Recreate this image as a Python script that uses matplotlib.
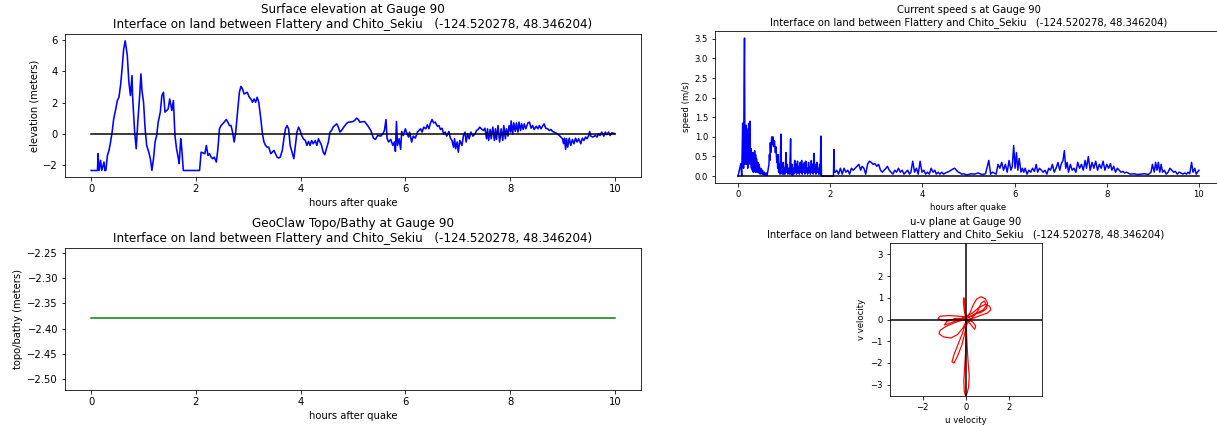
import matplotlib
matplotlib.use("Agg")
import matplotlib.pyplot as plt

gauge_title = "Interface on land between Flattery and Chito_Sekiu   (-124.520278, 48.346204)"

# ---- surface elevation (hours, meters) ----
elev_early = [
    (0.00, -2.37), (0.12, -2.37), (0.13, -1.29), (0.15, -2.37), (0.18, -1.72), (0.20, -2.37),
    (0.245, -1.83), (0.26, -2.37), (0.28, -2.37), (0.31, -1.40), (0.34, -1.08), (0.37, -0.54),
    (0.40, 0.10), (0.43, 0.95), (0.47, 1.59), (0.50, 2.13), (0.53, 2.34), (0.56, 3.09),
    (0.59, 4.16), (0.62, 5.44), (0.65, 5.97), (0.69, 5.01), (0.72, 3.30), (0.75, 2.45),
    (0.78, 3.73), (0.79, 2.45), (0.83, 0.10), (0.86, -0.97), (0.89, 0.74), (0.93, 2.66),
    (0.95, 3.84), (0.97, 2.77), (1.00, 2.02), (1.03, 0.31), (1.06, -0.76), (1.10, -1.19),
    (1.13, -1.61), (1.16, -2.36), (1.19, -1.61), (1.22, -0.54), (1.25, -0.12), (1.28, 0.74),
    (1.32, 1.38), (1.35, 2.45), (1.38, 2.66), (1.41, 1.38), (1.44, 1.49), (1.47, 1.59),
    (1.50, 2.23), (1.54, 1.49), (1.57, 2.13), (1.60, -0.12), (1.63, -0.97), (1.66, -1.51),
    (1.68, -1.93), (1.71, -0.33), (1.72, -0.54), (1.76, -2.37), (2.07, -2.37),
]
elev_mid = [
    (2.10, -1.19), (2.17, -1.29), (2.20, -0.76), (2.23, -1.40), (2.26, -1.29), (2.29, -1.51),
    (2.32, -1.61), (2.35, -1.51), (2.39, -1.83), (2.42, -0.97), (2.45, 0.31), (2.48, 0.52),
    (2.54, 0.74), (2.58, 0.91), (2.61, 0.74), (2.64, 0.52), (2.67, 0.52), (2.70, 0.10),
    (2.73, -0.54), (2.76, 0.10), (2.80, 1.59), (2.83, 2.66), (2.86, 3.04), (2.89, 2.87),
    (2.92, 2.55), (2.98, 2.66), (3.02, 2.34), (3.05, 2.23), (3.08, 2.02), (3.11, 2.23),
    (3.14, 2.02), (3.17, 2.34), (3.20, 2.02), (3.24, 0.95), (3.27, -0.01), (3.30, -0.54),
    (3.33, -0.76), (3.36, -0.87), (3.39, -0.87), (3.43, -1.29), (3.46, -1.19), (3.49, -1.08),
    (3.55, -1.51), (3.58, -1.57), (3.61, -1.51), (3.65, -1.08), (3.68, -0.33), (3.71, 0.31),
    (3.74, 0.52), (3.77, 0.31), (3.80, -0.76), (3.87, -1.61), (3.90, -0.76), (3.93, 0.10),
    (3.96, 0.42), (3.99, 0.20), (4.02, -0.12), (4.05, -0.33), (4.09, -0.44), (4.12, -0.76),
    (4.15, -0.50), (4.18, -0.76), (4.21, -0.44), (4.24, -0.65), (4.28, -0.44), (4.31, -0.76),
    (4.34, -0.33), (4.37, -0.54), (4.40, -0.76), (4.43, -1.19), (4.46, -1.36), (4.50, -0.87),
    (4.53, -0.54), (4.56, 0.10), (4.59, 0.20), (4.62, 0.42), (4.65, 0.52), (4.69, 0.63),
    (4.72, 0.42), (4.75, 0.10), (4.78, 0.20), (4.81, 0.35), (4.87, 0.63), (4.91, 0.74),
    (4.94, 0.74), (5.00, 0.78), (5.03, 0.84), (5.07, 1.00), (5.10, 0.91), (5.13, 0.74),
]
elev_late = [
    (5.22, 0.78), (5.28, 0.52), (5.34, 0.20), (5.39, -0.29), (5.43, -0.37), (5.47, -0.12),
    (5.53, -0.16), (5.57, -0.01), (5.60, 0.20), (5.63, 0.91), (5.65, -0.29), (5.68, -0.54),
    (5.72, -0.37), (5.76, -0.76), (5.79, -0.54), (5.81, -1.14), (5.83, 0.78), (5.85, -0.76),
    (5.88, -0.33), (5.91, -1.01), (5.93, 0.14), (5.96, -0.12), (6.00, 0.31), (6.02, 0.10),
    (6.06, -0.22), (6.08, 0.10), (6.12, -0.54), (6.15, -0.16), (6.19, -0.29), (6.23, 0.10),
    (6.26, 0.20), (6.29, 0.31), (6.32, 0.10), (6.35, 0.42), (6.39, 0.31), (6.42, 0.57),
    (6.45, 0.31), (6.48, 0.69), (6.51, 0.91), (6.54, 0.69), (6.57, 0.74), (6.61, 0.48),
    (6.64, 0.52), (6.67, 0.27), (6.70, 0.35), (6.73, -0.01), (6.76, 0.10), (6.79, -0.16),
    (6.83, 0.14), (6.86, -0.29), (6.89, -0.44), (6.92, -0.87), (6.94, -0.33), (6.96, -0.97),
    (6.99, -0.54), (7.01, -1.19), (7.04, -0.44), (7.08, -0.76), (7.11, -0.12), (7.14, 0.10),
    (7.16, -0.54), (7.19, -0.01), (7.22, -0.33), (7.25, 0.10), (7.29, -0.16), (7.33, -0.01),
    (7.36, 0.20), (7.39, 0.27), (7.42, 0.42), (7.45, 0.31), (7.49, 0.20), (7.52, 0.35),
    (7.55, -0.33), (7.57, 0.31), (7.59, -0.44), (7.62, 0.27), (7.64, -0.33), (7.67, 0.42),
    (7.70, -0.44), (7.72, 0.31), (7.74, -0.37), (7.77, 0.52), (7.80, -0.54), (7.83, 0.31),
    (7.86, -0.44), (7.88, 0.52), (7.91, -0.33), (7.93, 0.31), (7.96, -0.16), (7.98, 0.52),
    (8.01, 0.10), (8.02, 0.82), (8.05, -0.01), (8.07, 0.69), (8.10, 0.14), (8.12, 0.69),
    (8.15, 0.10), (8.17, 0.74), (8.20, 0.20), (8.22, 0.63), (8.25, 0.27), (8.27, 0.63),
    (8.30, 0.31), (8.34, 0.69), (8.37, 0.74), (8.40, 0.35), (8.43, 0.52), (8.46, 0.27),
    (8.50, 0.48), (8.53, 0.31), (8.56, 0.52), (8.59, 0.31), (8.62, 0.48), (8.65, 0.63),
    (8.68, 0.35), (8.72, 0.31), (8.75, 0.20), (8.78, 0.27), (8.81, 0.14), (8.84, 0.10),
    (8.87, 0.05), (8.90, -0.01), (8.94, -0.12), (8.97, -0.22), (9.00, -0.33), (9.02, -0.65),
    (9.04, -0.29), (9.06, -1.01), (9.08, -0.33), (9.10, -0.87), (9.13, -0.29), (9.16, -0.76),
    (9.19, -0.37), (9.22, -0.65), (9.25, -0.29), (9.28, -0.54), (9.31, -0.33), (9.35, -0.65),
    (9.38, -0.29), (9.41, -0.44), (9.44, -0.22), (9.47, -0.33), (9.50, -0.12), (9.52, 0.14),
    (9.54, -0.16), (9.58, -0.22), (9.63, -0.12), (9.66, -0.22), (9.69, -0.01), (9.72, -0.12),
    (9.75, 0.10), (9.79, -0.16), (9.82, 0.10), (9.85, -0.07), (9.88, 0.10), (9.91, -0.12),
    (9.94, 0.05), (10.00, 0.00),
]

# ---- current speed (hours, m/s) ----
speed_early = [
    (0.00, 0.0), (0.06, 0.32), (0.08, 0.0), (0.10, 1.35), (0.12, 0.2), (0.13, 2.1), (0.14, 3.52),
    (0.15, 0.3), (0.16, 1.2), (0.17, 0.4), (0.18, 1.3), (0.19, 0.3), (0.20, 1.2), (0.21, 0.2),
    (0.22, 0.9), (0.23, 0.3), (0.24, 1.35), (0.25, 0.4), (0.26, 1.4), (0.27, 0.3), (0.28, 0.7),
    (0.29, 0.2), (0.30, 0.55), (0.31, 0.15), (0.32, 0.6), (0.33, 0.1), (0.34, 0.5), (0.35, 0.15),
    (0.36, 0.65), (0.37, 0.1), (0.38, 0.55), (0.39, 0.1), (0.40, 0.45), (0.42, 0.1), (0.43, 0.35),
    (0.45, 0.08), (0.46, 0.3), (0.48, 0.05), (0.50, 0.2), (0.52, 0.05), (0.53, 0.15), (0.55, 0.03),
    (0.57, 0.1), (0.59, 0.02), (0.61, 0.08), (0.63, 0.02), (0.65, 0.15), (0.67, 0.3), (0.68, 0.55),
    (0.69, 0.4), (0.70, 0.85), (0.71, 0.6), (0.73, 1.0), (0.74, 0.8), (0.76, 1.0), (0.77, 0.75),
    (0.79, 0.9), (0.81, 0.6), (0.82, 0.75), (0.84, 0.35), (0.85, 0.5), (0.86, 0.2), (0.87, 0.55),
    (0.88, 0.1), (0.90, 0.3), (0.91, 0.05), (0.93, 1.07), (0.94, 0.1), (0.95, 0.2), (0.96, 0.05),
    (0.98, 0.35), (0.99, 0.05), (1.01, 0.2), (1.02, 0.05), (1.04, 0.6), (1.05, 0.1), (1.07, 0.3),
    (1.08, 0.05), (1.10, 0.2), (1.12, 0.05), (1.14, 0.95), (1.15, 0.05), (1.17, 0.3), (1.18, 0.02),
    (1.20, 0.2), (1.21, 0.05), (1.23, 0.4), (1.24, 0.1), (1.26, 0.3), (1.27, 0.05), (1.29, 0.38),
    (1.30, 0.1), (1.32, 0.25), (1.33, 0.05), (1.35, 0.35), (1.36, 0.1), (1.38, 0.4), (1.39, 0.05),
    (1.41, 0.3), (1.42, 0.1), (1.44, 0.35), (1.45, 0.05), (1.47, 0.38), (1.48, 0.1), (1.50, 0.2),
    (1.51, 0.05), (1.53, 0.35), (1.54, 0.1), (1.56, 0.25), (1.57, 0.05), (1.59, 0.4), (1.60, 0.1),
    (1.62, 0.3), (1.63, 0.05), (1.65, 0.58), (1.66, 0.1), (1.68, 0.3), (1.69, 0.05), (1.71, 0.35),
    (1.72, 0.1), (1.74, 0.2), (1.75, 0.05), (1.77, 0.3), (1.78, 0.05), (1.80, 1.02), (1.81, 0.0),
    (2.07, 0.0), (2.08, 0.68), (2.09, 0.1),
]
speed_mid = [
    (2.11, 0.1), (2.14, 0.15), (2.18, 0.05), (2.22, 0.2), (2.26, 0.05), (2.30, 0.2), (2.34, 0.1),
    (2.38, 0.15), (2.42, 0.05), (2.46, 0.2), (2.50, 0.15), (2.54, 0.2), (2.58, 0.25), (2.62, 0.3),
    (2.66, 0.15), (2.69, 0.25), (2.73, 0.2), (2.77, 0.05), (2.81, 0.3), (2.85, 0.38), (2.89, 0.35),
    (2.93, 0.3), (2.97, 0.32), (3.01, 0.25), (3.05, 0.3), (3.09, 0.15), (3.13, 0.1), (3.17, 0.15),
    (3.21, 0.2), (3.24, 0.25), (3.28, 0.15), (3.32, 0.1), (3.36, 0.05), (3.40, 0.15), (3.44, 0.1),
    (3.48, 0.2), (3.52, 0.1), (3.56, 0.15), (3.60, 0.05), (3.64, 0.1), (3.68, 0.15), (3.72, 0.05),
    (3.75, 0.1), (3.79, 0.38), (3.83, 0.1), (3.87, 0.2), (3.91, 0.05), (3.95, 0.38), (3.99, 0.1),
    (4.03, 0.15), (4.07, 0.05), (4.11, 0.1), (4.15, 0.05), (4.19, 0.2), (4.23, 0.1), (4.27, 0.15),
    (4.30, 0.05), (4.34, 0.1), (4.38, 0.05), (4.42, 0.1), (4.46, 0.05), (4.50, 0.08), (4.54, 0.1),
    (4.58, 0.12), (4.62, 0.15), (4.66, 0.18), (4.70, 0.2), (4.74, 0.15), (4.78, 0.1), (4.82, 0.08),
    (4.85, 0.05), (4.89, 0.06), (4.97, 0.03), (5.05, 0.06), (5.13, 0.05), (5.21, 0.08), (5.29, 0.04),
    (5.37, 0.06),
]
speed_late = [
    (5.44, 0.4), (5.48, 0.05), (5.52, 0.1), (5.60, 0.05), (5.64, 0.3), (5.68, 0.2), (5.72, 0.35),
    (5.76, 0.15), (5.80, 0.3), (5.84, 0.1), (5.88, 0.4), (5.92, 0.15), (5.95, 0.25), (5.98, 0.78),
    (6.01, 0.2), (6.04, 0.6), (6.07, 0.15), (6.10, 0.45), (6.14, 0.1), (6.17, 0.2), (6.20, 0.1),
    (6.23, 0.2), (6.27, 0.05), (6.31, 0.15), (6.35, 0.1), (6.39, 0.2), (6.43, 0.12), (6.47, 0.3),
    (6.50, 0.1), (6.54, 0.2), (6.58, 0.15), (6.62, 0.1), (6.66, 0.15), (6.70, 0.05), (6.74, 0.2),
    (6.78, 0.15), (6.82, 0.3), (6.86, 0.1), (6.90, 0.2), (6.94, 0.35), (6.98, 0.15), (7.01, 0.3),
    (7.05, 0.4), (7.08, 0.65), (7.11, 0.2), (7.14, 0.35), (7.17, 0.1), (7.21, 0.3), (7.25, 0.15),
    (7.29, 0.2), (7.33, 0.1), (7.37, 0.35), (7.41, 0.2), (7.45, 0.3), (7.49, 0.15), (7.53, 0.4),
    (7.56, 0.2), (7.60, 0.5), (7.64, 0.15), (7.68, 0.35), (7.72, 0.2), (7.76, 0.38), (7.80, 0.15),
    (7.84, 0.3), (7.88, 0.2), (7.92, 0.38), (7.96, 0.15), (8.00, 0.3), (8.04, 0.2), (8.08, 0.32),
    (8.11, 0.15), (8.15, 0.25), (8.19, 0.1), (8.23, 0.2), (8.27, 0.15), (8.31, 0.1), (8.35, 0.12),
    (8.39, 0.08), (8.43, 0.1), (8.51, 0.05), (8.59, 0.06), (8.66, 0.04), (8.74, 0.05), (8.82, 0.06),
    (8.90, 0.04), (8.96, 0.1), (8.99, 0.3), (9.03, 0.1), (9.06, 0.35), (9.09, 0.15), (9.12, 0.35),
    (9.15, 0.1), (9.18, 0.3), (9.21, 0.1), (9.25, 0.15), (9.29, 0.05), (9.33, 0.1), (9.37, 0.2),
    (9.41, 0.15), (9.45, 0.1), (9.49, 0.12), (9.53, 0.05), (9.57, 0.1), (9.61, 0.08), (9.65, 0.05),
    (9.69, 0.08), (9.73, 0.05), (9.76, 0.1), (9.80, 0.06), (9.84, 0.35), (9.87, 0.1), (9.91, 0.2),
    (9.94, 0.05), (9.97, 0.1), (10.00, 0.15),
]

# ---- topography ----
topo_t = [0.0, 10.0]
topo_b = [-2.38, -2.38]

# ---- u-v trajectory (m/s) ----
uv_path = [
    (0.0, 0.0), (-0.08, 0.4), (-0.12, 0.8), (-0.1, 1.0), (-0.05, 0.7), (-0.02, 0.3), (0.0, 0.0),
    (0.02, -0.5), (0.05, -1.2), (0.1, -2.0), (0.15, -2.6), (0.12, -3.1), (0.05, -3.4),
    (-0.02, -3.52), (-0.08, -3.3), (-0.1, -2.8), (-0.05, -2.0), (0.0, -1.2), (0.02, -0.5), (0.0, 0.0),
    (0.2, 0.35), (0.35, 0.7), (0.5, 0.95), (0.7, 1.05), (0.9, 0.95), (1.0, 0.75), (0.95, 0.5),
    (0.75, 0.35), (0.45, 0.25), (0.15, 0.1),
    (-0.3, 0.15), (-0.8, 0.18), (-1.2, 0.15), (-1.3, 0.05), (-1.1, -0.05), (-0.6, 0.0), (-0.2, 0.05),
    (0.3, 0.3), (0.6, 0.55), (0.9, 0.7), (1.1, 0.6), (1.15, 0.45), (1.0, 0.3), (0.7, 0.2),
    (0.3, 0.05), (0.0, 0.0),
    (-0.4, -0.1), (-0.9, -0.3), (-1.2, -0.5), (-1.25, -0.65), (-1.05, -0.8), (-0.7, -0.85),
    (-0.4, -0.7), (-0.15, -0.4), (0.0, -0.1),
    (-0.15, -0.6), (-0.35, -1.1), (-0.55, -1.6), (-0.65, -1.95), (-0.55, -2.0), (-0.4, -1.7),
    (-0.2, -1.2), (-0.05, -0.6), (0.05, -0.2),
    (0.3, 0.1), (0.55, 0.4), (0.7, 0.75), (0.85, 0.85), (0.95, 0.65), (0.8, 0.45), (0.5, 0.3),
    (0.2, 0.15),
    (-0.3, 0.0), (-0.7, -0.15), (-1.0, -0.25), (-0.9, -0.1), (-0.5, 0.05), (-0.1, 0.05),
    (0.2, -0.2), (0.4, -0.45), (0.45, -0.3), (0.3, -0.1), (0.0, 0.0),
]
uv_limit = 3.52

W, H = 1217, 426
DPI = 72
fig = plt.figure(figsize=(W / DPI, H / DPI), dpi=DPI)


def box(left, top, right, bottom):
    return [left / W, 1 - bottom / H, (right - left) / W, (bottom - top) / H]


def unzip(*segs):
    pts = [p for s in segs for p in s]
    return [p[0] for p in pts], [p[1] for p in pts]


# Surface elevation
ax1 = fig.add_axes(box(65, 34, 641, 177))
et, ev = unzip(elev_early, elev_mid, elev_late)
ax1.plot(et, ev, color="b", lw=1.6)
ax1.plot([0, 10], [0, 0], color="k", lw=1.5)
ax1.set_title("Surface elevation at Gauge 90\n" + gauge_title, fontsize=12)
ax1.set_xlabel("hours after quake", fontsize=10)
ax1.set_ylabel("elevation (meters)", fontsize=10)
ax1.set_xlim(-0.5, 10.5)
ax1.set_ylim(-2.79, 6.41)
ax1.set_xticks([0, 2, 4, 6, 8, 10])
ax1.set_yticks([-2, 0, 2, 4, 6])
ax1.tick_params(labelsize=10)

# Current speed
ax2 = fig.add_axes(box(715, 31, 1222, 183))
st, sv = unzip(speed_early, speed_mid, speed_late)
ax2.plot(st, sv, color="b", lw=1.5)
ax2.plot([0, 10], [0, 0], color="k", lw=1.5)
ax2.set_title("Current speed s at Gauge 90\n" + gauge_title, fontsize=10)
ax2.set_xlabel("hours after quake", fontsize=8.5)
ax2.set_ylabel("speed (m/s)", fontsize=8.5)
ax2.set_xlim(-0.5, 10.5)
ax2.set_ylim(-0.176, 3.70)
ax2.set_xticks([0, 2, 4, 6, 8, 10])
ax2.set_yticks([0.0, 0.5, 1.0, 1.5, 2.0, 2.5, 3.0, 3.5])
ax2.set_yticklabels(["0.0", "0.5", "1.0", "1.5", "2.0", "2.5", "3.0", "3.5"])
ax2.tick_params(labelsize=8.5)

# Topography
ax3 = fig.add_axes(box(65, 248, 641, 390))
ax3.plot(topo_t, topo_b, color="g", lw=1.5)
ax3.set_title("GeoClaw Topo/Bathy at Gauge 90\n" + gauge_title, fontsize=12)
ax3.set_xlabel("hours after quake", fontsize=10)
ax3.set_ylabel("topo/bathy (meters)", fontsize=10)
ax3.set_xlim(-0.5, 10.5)
ax3.set_ylim(-2.521, -2.241)
ax3.set_xticks([0, 2, 4, 6, 8, 10])
ax3.set_yticks([-2.50, -2.45, -2.40, -2.35, -2.30, -2.25])
ax3.set_yticklabels(["\u22122.50", "\u22122.45", "\u22122.40", "\u22122.35", "\u22122.30", "\u22122.25"])
ax3.tick_params(labelsize=10)

# u-v plane
ax4 = fig.add_axes(box(890, 243, 1042, 396))
uu, vv = unzip(uv_path)
ax4.plot(uu, vv, color="r", lw=1.2)
ax4.plot([-uv_limit, uv_limit], [0, 0], color="k", lw=1.5)
ax4.plot([0, 0], [-uv_limit, uv_limit], color="k", lw=1.5)
ax4.set_xlim(-uv_limit, uv_limit)
ax4.set_ylim(-uv_limit, uv_limit)
ax4.set_xticks([-2, 0, 2])
ax4.set_yticks([-3, -2, -1, 0, 1, 2, 3])
ax4.set_title("u-v plane at Gauge 90\n" + gauge_title, fontsize=10)
ax4.set_xlabel("u velocity", fontsize=8.5)
ax4.set_ylabel("v velocity", fontsize=8.5)
ax4.tick_params(labelsize=8.5)

fig.savefig("out.png", dpi=DPI)
